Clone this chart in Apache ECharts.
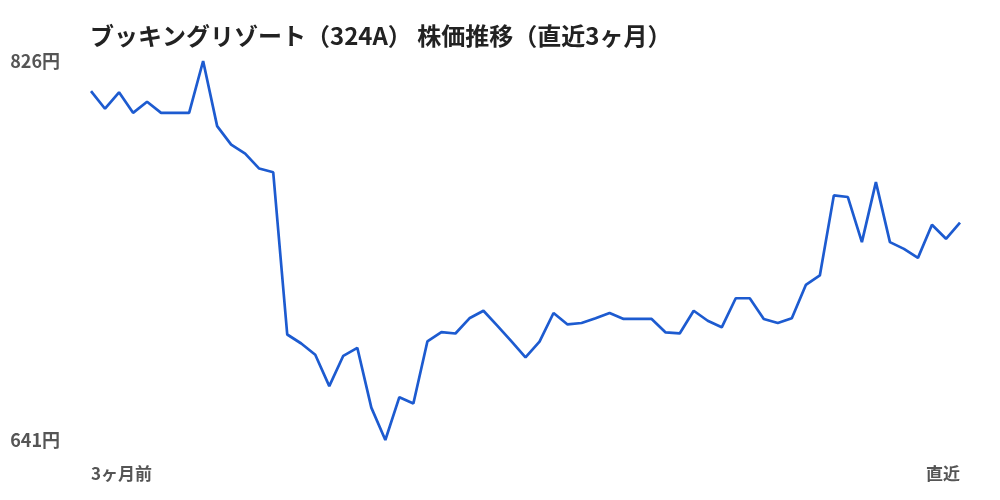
<!DOCTYPE html>
<html lang="ja">
<head>
    <meta charset="UTF-8">
    <title>株価推移</title>
    <style>
        html, body { margin: 0; padding: 0; background: #fff; }
        #chart { width: 1000px; height: 500px; }
    </style>
</head>
<body>
<div id="chart"></div>
<script src="https://cdn.jsdelivr.net/npm/echarts@6/dist/echarts.min.js"></script>
<script>
    // 終値（直近3ヶ月、営業日ごと）
    var prices = [
        811.3, 802.7, 810.7, 800.7, 806.1, 800.7, 800.7, 800.7, 826.0, 794.2,
        785.2, 780.8, 773.5, 771.7, 692.5, 688.1, 682.6, 667.3, 682.1, 686.0,
        656.8, 641.0, 661.9, 658.8, 689.1, 693.7, 693.0, 700.4, 704.1, 696.7,
        689.1, 681.3, 689.0, 703.0, 697.4, 698.1, 700.4, 703.0, 700.1, 700.1,
        700.1, 693.5, 693.0, 704.1, 699.2, 696.0, 710.2, 710.2, 700.1, 698.1,
        700.4, 716.7, 721.3, 760.4, 759.6, 737.6, 766.9, 737.6, 734.3, 729.9,
        746.1, 739.2, 747.1
    ];
    var days = [];
    for (var i = 0; i < prices.length; i++) {
        days.push(String(i + 1));
    }
    var xLabels = ['3ヶ月前', '直近'];
    var yRange = [641, 826];

    var font = '"Noto Sans CJK JP", "Noto Sans", sans-serif';
    var myChart = echarts.init(document.getElementById('chart'));
    var option = {
        backgroundColor: '#fff',
        animation: false,
        title: {
            text: 'ブッキングリゾート（324A） 株価推移（直近3ヶ月）',
            left: 85,
            top: 19,
            textStyle: {
                fontFamily: font,
                fontSize: 24,
                fontWeight: 'bold',
                color: '#222'
            }
        },
        grid: {
            left: 91,
            right: 40,
            top: 61,
            bottom: 60
        },
        xAxis: {
            type: 'category',
            boundaryGap: false,
            data: days,
            axisLine: {show: false},
            axisTick: {show: false},
            splitLine: {show: false},
            axisLabel: {
                interval: 0,
                margin: 25,
                fontFamily: font,
                fontSize: 17,
                fontWeight: 'bold',
                color: '#555',
                alignMinLabel: 'left',
                alignMaxLabel: 'right',
                formatter: function (v, idx) {
                    if (idx === 0) return xLabels[0];
                    if (idx === days.length - 1) return xLabels[1];
                    return '';
                }
            }
        },
        yAxis: {
            type: 'value',
            min: yRange[0],
            max: yRange[1],
            interval: yRange[1] - yRange[0],
            axisLine: {show: false},
            axisTick: {show: false},
            splitLine: {show: false},
            axisLabel: {
                margin: 31,
                fontFamily: font,
                fontSize: 18,
                fontWeight: 'bold',
                color: '#555',
                formatter: function (v) { return v + '円'; }
            }
        },
        series: [{
            type: 'line',
            data: prices,
            symbol: 'none',
            lineStyle: {color: '#1d5bd0', width: 2.7}
        }]
    };
    myChart.setOption(option);
</script>
</body>
</html>
